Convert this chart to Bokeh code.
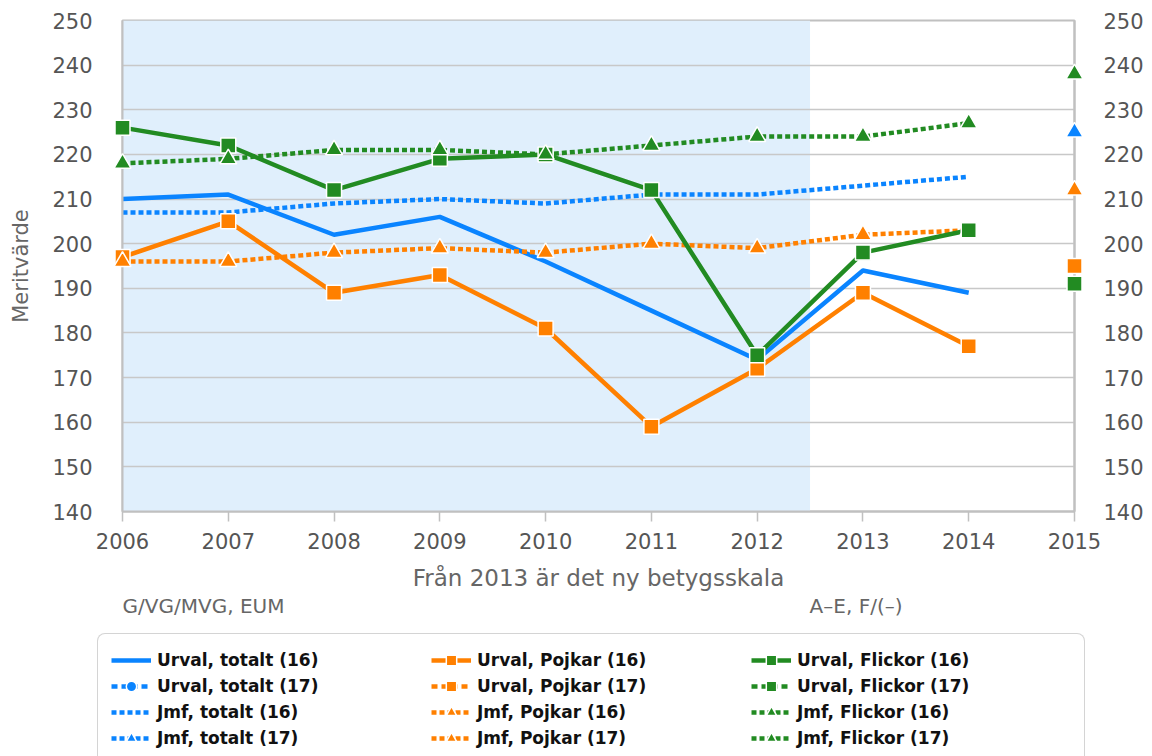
from bokeh.plotting import figure
from bokeh.layouts import column
from bokeh.models import (ColumnDataSource, Range1d, LinearAxis, BoxAnnotation,
                          Legend, LegendItem, FixedTicker)
from bokeh.embed import file_html
from bokeh.resources import INLINE

# ---------------- data ----------------
years = [2006, 2007, 2008, 2009, 2010, 2011, 2012, 2013, 2014]
years_17 = [2015]
x_ticks = [2006, 2007, 2008, 2009, 2010, 2011, 2012, 2013, 2014, 2015]
y_ticks = [140, 150, 160, 170, 180, 190, 200, 210, 220, 230, 240, 250]
scale_change = 2012.5
scale_labels = ["G/VG/MVG, EUM", "A–E, F/(–)"]

urval_totalt_16 = [210, 211, 202, 206, 196, 185, 174, 194, 189]
urval_pojkar_16 = [197, 205, 189, 193, 181, 159, 172, 189, 177]
urval_flickor_16 = [226, 222, 212, 219, 220, 212, 175, 198, 203]
jmf_totalt_16 = [207, 207, 209, 210, 209, 211, 211, 213, 215]
jmf_pojkar_16 = [196, 196, 198, 199, 198, 200, 199, 202, 203]
jmf_flickor_16 = [218, 219, 221, 221, 220, 222, 224, 224, 227]

urval_totalt_17 = [float("nan")]
urval_pojkar_17 = [195]
urval_flickor_17 = [191]
jmf_totalt_17 = [225]
jmf_pojkar_17 = [212]
jmf_flickor_17 = [238]

BLUE = "#0A84FF"
ORANGE = "#FF8000"
GREEN = "#228B22"
GRID = "#C8C8C8"
TXT = "#555555"
FONT = "DejaVu Sans"

FRAME_W, FRAME_H = 952, 491
p = figure(frame_width=FRAME_W, frame_height=FRAME_H,
           x_range=Range1d(2006, 2015), y_range=Range1d(140, 250),
           output_backend="svg", toolbar_location=None,
           min_border_left=122, min_border_right=78,
           min_border_top=20, min_border_bottom=112)
p.frame_align = False
p.background_fill_color = "white"
p.border_fill_color = "white"
p.outline_line_color = "#C0C0C0"
p.outline_line_width = 2

# shaded region (old grading scale)
p.add_layout(BoxAnnotation(left=x_ticks[0], right=scale_change, fill_color="#E0EFFC",
                           fill_alpha=1.0, line_alpha=0, level="image"))

# grids
p.xgrid.visible = False
p.ygrid.ticker = FixedTicker(ticks=y_ticks)
p.ygrid.grid_line_color = GRID
p.ygrid.grid_line_width = 1.5

# axes
xa = p.xaxis[0]
xa.ticker = FixedTicker(ticks=x_ticks)
xa.axis_line_color = "#C0C0C0"
xa.axis_line_width = 2
xa.major_tick_line_color = "#C0C0C0"
xa.major_tick_line_width = 1.5
xa.major_tick_out = 10
xa.major_tick_in = 0
xa.minor_tick_line_color = None
xa.major_label_standoff = 11
xa.major_label_text_font = FONT
xa.major_label_text_font_size = "21px"
xa.major_label_text_color = TXT
xa.axis_label = "Från 2013 är det ny betygsskala"
xa.axis_label_text_font = FONT
xa.axis_label_text_font_size = "23px"
xa.axis_label_text_font_style = "normal"
xa.axis_label_text_color = "#666666"
xa.axis_label_standoff = 13

# second "axis" carrying the grading-scale captions (labels are centred on ticks,
# so the ticks sit half a caption-width right of the left edges 2006 / 2012.5)
px_per_year = FRAME_W / 9.0
caption_ticks = [x_ticks[0] + 81 / px_per_year, scale_change + 46 / px_per_year]
sa = LinearAxis(ticker=FixedTicker(ticks=caption_ticks),
                major_label_overrides=dict(zip(caption_ticks, scale_labels)))
sa.axis_line_color = None
sa.major_tick_line_color = None
sa.minor_tick_line_color = None
sa.major_tick_out = 0
sa.major_tick_in = 0
sa.major_label_standoff = 0
sa.major_label_text_font = FONT
sa.major_label_text_font_size = "20px"
sa.major_label_text_color = "#666666"
p.add_layout(sa, "below")

ya = p.yaxis[0]
ya.ticker = FixedTicker(ticks=y_ticks)
ya.axis_line_color = "#C0C0C0"
ya.axis_line_width = 2
ya.major_tick_out = 0
ya.major_tick_in = 0
ya.minor_tick_line_color = None
ya.major_label_standoff = 30
ya.major_label_text_font = FONT
ya.major_label_text_font_size = "21px"
ya.major_label_text_color = TXT
ya.axis_label = "Meritvärde"
ya.axis_label_text_font = FONT
ya.axis_label_text_font_size = "21px"
ya.axis_label_text_font_style = "normal"
ya.axis_label_text_color = "#666666"
ya.axis_label_standoff = 16

ra = LinearAxis(ticker=FixedTicker(ticks=y_ticks))
ra.axis_line_color = "#C0C0C0"
ra.axis_line_width = 2
ra.major_tick_out = 0
ra.major_tick_in = 0
ra.minor_tick_line_color = None
ra.major_label_standoff = 29
ra.major_label_text_font = FONT
ra.major_label_text_font_size = "21px"
ra.major_label_text_color = TXT
p.add_layout(ra, "right")

# ---------------- legend figure ----------------
TOP_H = 20 + FRAME_H + 112
lg = figure(width=1152, height=756 - TOP_H, x_range=Range1d(0, 1), y_range=Range1d(0, 1),
            output_backend="svg", toolbar_location=None,
            x_axis_location=None, y_axis_location=None,
            min_border=0, min_border_left=0, min_border_right=0,
            min_border_top=0, min_border_bottom=0)
lg.frame_align = False
lg.outline_line_color = None
lg.grid.visible = False
lg.background_fill_color = "white"
lg.border_fill_color = "white"

# ---------------- series ----------------
items = []

def series(label, xs, ys, color, dash, marker, msize, lw=4.5):
    src = ColumnDataSource(dict(x=xs, y=ys))
    line_kw = dict(line_color=color, line_width=lw, line_dash=dash, line_join="round")
    p.line("x", "y", source=src, **line_kw)
    # legend-figure copies: same data, which lies outside that figure's ranges
    rs = [lg.line("x", "y", source=src, **line_kw)]
    if marker is not None:
        sc_kw = dict(marker=marker, size=msize, fill_color=color,
                     line_color="white", line_width=1.5)
        p.scatter("x", "y", source=src, level="overlay", **sc_kw)
        rs.append(lg.scatter("x", "y", source=src, **sc_kw))
    items.append(LegendItem(label=label, renderers=rs))

series("Urval, totalt (16)", years, urval_totalt_16, BLUE, "solid", None, 0)
series("Urval, totalt (17)", years_17, urval_totalt_17, BLUE, "6 4", "circle", 13)
series("Jmf, totalt (16)", years, jmf_totalt_16, BLUE, "5 3", None, 0)
series("Jmf, totalt (17)", years_17, jmf_totalt_17, BLUE, "5 3", "triangle", 17)

series("Urval, Pojkar (16)", years, urval_pojkar_16, ORANGE, "solid", "square", 15)
series("Urval, Pojkar (17)", years_17, urval_pojkar_17, ORANGE, "6 4", "square", 15)
series("Jmf, Pojkar (16)", years, jmf_pojkar_16, ORANGE, "5 3", "triangle", 17)
series("Jmf, Pojkar (17)", years_17, jmf_pojkar_17, ORANGE, "5 3", "triangle", 17)

series("Urval, Flickor (16)", years, urval_flickor_16, GREEN, "solid", "square", 15)
series("Urval, Flickor (17)", years_17, urval_flickor_17, GREEN, "6 4", "square", 15)
series("Jmf, Flickor (16)", years, jmf_flickor_16, GREEN, "5 3", "triangle", 17)
series("Jmf, Flickor (17)", years_17, jmf_flickor_17, GREEN, "5 3", "triangle", 17)

legend = Legend(items=items, location=(97, -9), orientation="vertical", nrows=4,
                glyph_width=40, glyph_height=26, label_height=26, label_width=274,
                label_standoff=6, spacing=0, padding=13, margin=0,
                label_text_font=FONT, label_text_font_style="bold",
                label_text_font_size="17px", label_text_color="#111111",
                border_line_color="#AAAAAA", border_line_width=1.5,
                background_fill_color="white", background_fill_alpha=1.0)
try:
    legend.border_radius = 8
except Exception:
    pass
lg.add_layout(legend, "center")

layout = column(p, lg, spacing=0)
open("out.html", "w").write(file_html(layout, INLINE))
